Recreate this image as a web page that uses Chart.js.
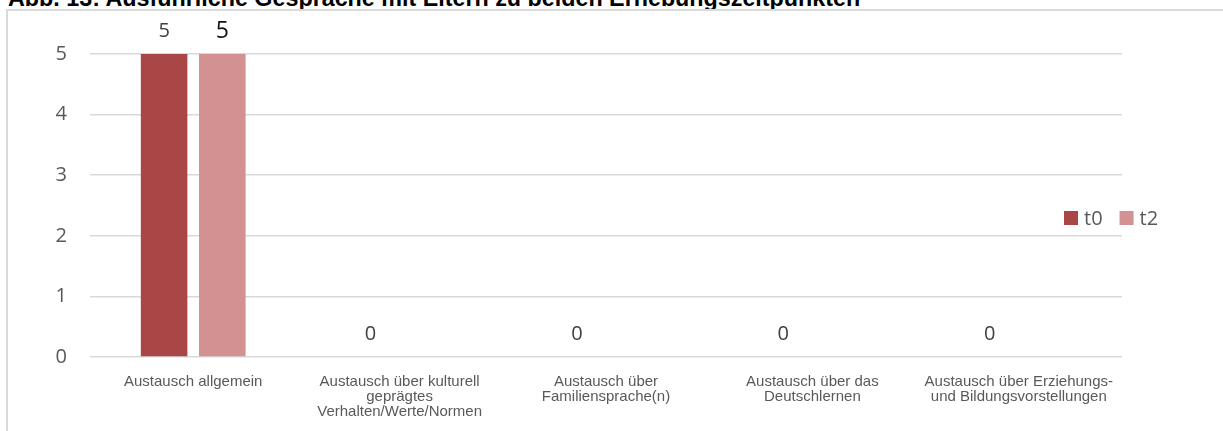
<!DOCTYPE html>
<html>
<head>
<meta charset="utf-8">
<script src="https://cdn.jsdelivr.net/npm/chart.js@4"></script>
<style>
body { margin: 0; background: #fff; overflow: hidden; width: 1223px; height: 431px; position: relative; }
#titel { position: absolute; left: 8px; top: -13px; font: bold 23.3px Arial, "Liberation Sans", sans-serif; line-height: 23px; color: #000; white-space: nowrap; }
#rahmen { position: absolute; left: 6px; top: 9px; width: 1300px; height: 500px; border-left: 2px solid #d9d9d9; border-top: 2px solid #d9d9d9; }
#canva1 { position: absolute; left: 0; top: 0; }
</style>
</head>
<body>
<div id="titel">Abb. 13: Ausführliche Gespräche mit Eltern zu beiden Erhebungszeitpunkten</div>
<div id="rahmen"></div>
<canvas id="canva1" width="1223" height="431"></canvas>
<script>
var kategorien = [
  ["Austausch allgemein"],
  ["Austausch über kulturell", "geprägtes", "Verhalten/Werte/Normen"],
  ["Austausch über", "Familiensprache(n)"],
  ["Austausch über das", "Deutschlernen"],
  ["Austausch über Erziehungs-", "und Bildungsvorstellungen"]
]
var werteT0 = [5, 0, 0, 0, 0]
var werteT2 = [5, 0, 0, 0, 0]
var serien = ["t0", "t2"]
var yTicks = [0, 1, 2, 3, 4, 5]

// Werte über den Balken
var labelPlugin = {
  id: "labels",
  afterDatasetsDraw: function(chart){
    var ctx = chart.ctx
    chart.data.datasets.forEach(function(ds, i){
      var meta = chart.getDatasetMeta(i)
      meta.data.forEach(function(bar, j){
        var v = ds.data[j]
        if(v === 0 && !ds.nullLabel) return
        ctx.save()
        ctx.font = ds.labelFont
        ctx.fillStyle = ds.labelColor
        ctx.textAlign = "center"
        ctx.textBaseline = "middle"
        ctx.fillText(String(v), bar.x, bar.y - 22.5)
        ctx.restore()
      })
    })
  }
}

// Legende rechts, nebeneinander wie in Excel
var legendePlugin = {
  id: "legende",
  afterDraw: function(chart){
    var ctx = chart.ctx
    var x = 1064
    var y = 218
    ctx.save()
    ctx.font = '20px "Open Sans", sans-serif'
    ctx.textBaseline = "middle"
    chart.data.datasets.forEach(function(ds){
      ctx.fillStyle = ds.backgroundColor
      ctx.fillRect(x, y - 7, 14, 14)
      ctx.fillStyle = "#595959"
      ctx.fillText(ds.label, x + 20, y + 1)
      x += 20 + ctx.measureText(ds.label).width + 17
    })
    ctx.restore()
  }
}

const config = {
  type: "bar",
  data: {
    labels: kategorien,
    datasets: [{
      label: serien[0],
      data: werteT0,
      backgroundColor: "#a94646",
      nullLabel: true,
      labelFont: '20px "Open Sans", sans-serif',
      labelColor: "#404040"
    }, {
      label: serien[1],
      data: werteT2,
      backgroundColor: "#d39192",
      nullLabel: false,
      labelFont: '23px "Open Sans", sans-serif',
      labelColor: "#111111"
    }]
  },
  options: {
    responsive: false,
    animation: false,
    layout: { padding: { top: 54, right: 101, left: 0, bottom: 0 } },
    datasets: { bar: { categoryPercentage: 0.564, barPercentage: 0.8 } },
    plugins: {
      legend: { display: false },
      tooltip: { enabled: false }
    },
    scales: {
      x: {
        grid: { display: false, drawTicks: false },
        border: { display: false },
        ticks: {
          padding: 17,
          maxRotation: 0,
          autoSkip: false,
          color: "#595959",
          font: { family: "Arial, 'Liberation Sans', sans-serif", size: 15, lineHeight: 1.0 }
        },
        afterFit: function(scale){ scale.height = 74 }
      },
      y: {
        min: 0,
        max: yTicks[yTicks.length - 1],
        afterBuildTicks: function(scale){
          scale.ticks = yTicks.map(function(v){ return { value: v } })
        },
        grid: { color: "#d9d9d9", lineWidth: 1.5, drawTicks: false },
        border: { display: false },
        ticks: {
          padding: 23,
          color: "#595959",
          font: { family: "'Open Sans', sans-serif", size: 20 }
        },
        afterFit: function(scale){ scale.width = 90 }
      }
    }
  },
  plugins: [labelPlugin, legendePlugin]
}

const ctx = document.getElementById("canva1").getContext("2d")
window.chart = new Chart(ctx, config)
</script>
</body>
</html>
